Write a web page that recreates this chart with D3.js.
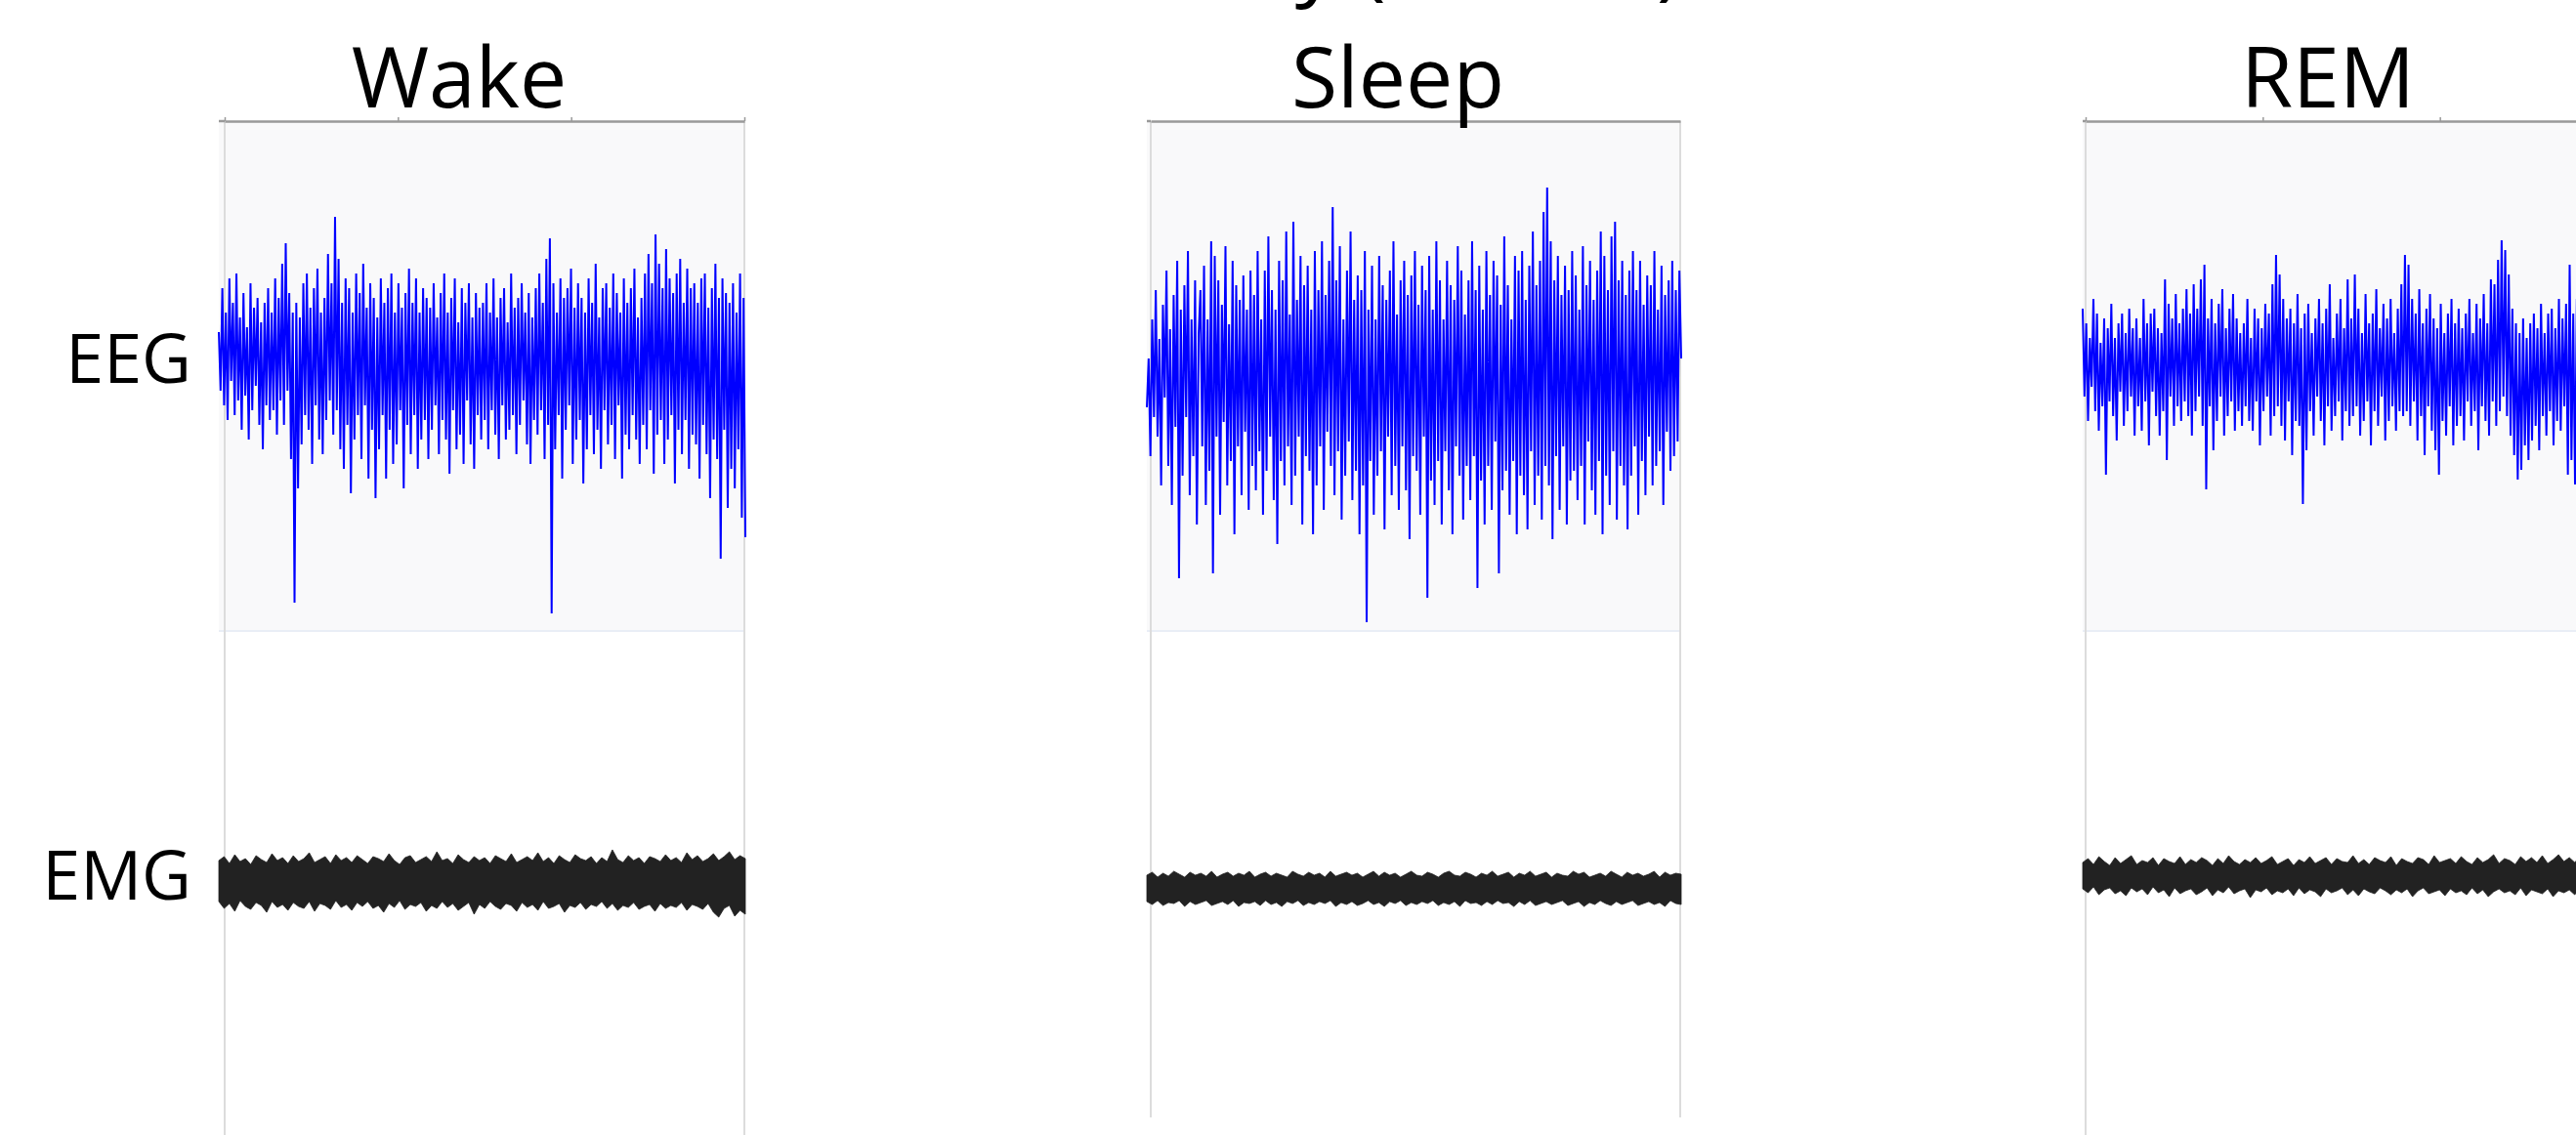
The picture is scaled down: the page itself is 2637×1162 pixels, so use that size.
<!DOCTYPE html>
<html>
<head>
<meta charset="utf-8">
<script src="https://cdn.jsdelivr.net/npm/d3@7"></script>
<style>
body { margin: 0; background: #fff; overflow: hidden; }
svg { display: block; }
text { font-family: "Open Sans", "Noto Sans", sans-serif; fill: #000; }
</style>
</head>
<body>
<svg id="viz"></svg>
<script>
var WIDTH = 2637;
var HEIGHT = 1162;

var titleText = "Activity (Mouse)";
var states = ["Wake", "Sleep", "REM"];
var channels = ["EEG", "EMG"];

// EEG traces (peak/trough pairs, µV-ish units)
var eegWake = [
    40,-20,85,-35,60,-50,95,-10,70,-45,100,-30,55,-60,80,-25,45,-70,90,-40,65,-15,75,-55,50,-80,70,-35,85,-50,
    60,-40,95,-65,75,-30,110,-55,131,-20,80,-90,60,-237,70,-120,55,-75,90,-45,100,-60,65,-95,85,-35,105,-70,60,-85,
    75,-50,120,-30,90,-65,158,-40,115,-80,70,-100,95,-55,85,-125,60,-70,100,-45,80,-90,110,-35,65,-110,90,-60,75,-130,
    55,-80,95,-45,70,-110,85,-60,100,-95,60,-75,90,-40,65,-120,80,-55,105,-85,70,-45,95,-100,60,-70,85,-50,75,-90,
    65,-60,90,-35,55,-85,80,-50,100,-70,60,-105,75,-40,95,-80,50,-65,85,-95,70,-30,90,-75,55,-100,80,-45,65,-70,
    70,-50,90,-80,60,-40,95,-65,55,-90,75,-35,85,-70,50,-60,100,-45,65,-85,75,-55,90,-30,60,-75,80,-95,55,-50,
    85,-65,100,-40,70,-90,115,-55,136,-248,90,-80,60,-45,95,-110,75,-60,85,-35,105,-95,65,-70,90,-50,75,-115,60,-80,
    95,-45,70,-85,110,-60,55,-100,85,-40,90,-75,65,-55,100,-90,80,-35,60,-110,95,-65,70,-80,85,-45,105,-70,55,-95,
    75,-55,100,-80,120,-40,90,-105,140,-65,110,-50,85,-95,125,-70,95,-45,80,-115,100,-60,115,-85,70,-50,105,-100,85,-65,
    90,-75,70,-110,95,-55,100,-85,65,-130,85,-70,110,-90,75,-192,95,-60,80,-140,70,-100,90,-120,60,-80,100,-150,75,-170
];
var eegSleep = [
    -30,20,-80,60,-40,90,-60,40,-110,75,-20,110,-90,50,-130,85,-50,120,-205,70,-100,95,-40,130,-120,60,-80,100,-150,45,
    90,-70,115,-130,60,-95,140,-200,125,-60,100,-140,75,-45,135,-110,55,-85,120,-160,95,-70,80,-120,105,-55,70,-135,110,-90,
    85,-115,130,-75,60,-140,110,-95,145,-60,90,-125,70,-170,120,-85,100,-110,150,-70,65,-130,160,-100,80,-60,125,-150,95,-80,
    115,-95,70,-160,130,-110,90,-70,140,-135,85,-55,120,-90,175,-120,100,-75,135,-145,60,-100,110,-65,150,-125,80,-95,105,-160,
    90,-110,130,-250,70,-85,115,-140,60,-100,125,-75,95,-155,80,-60,110,-120,140,-90,65,-135,100,-70,120,-115,85,-165,105,-80,
    130,-95,75,-140,115,-60,90,-225,125,-105,70,-130,140,-85,100,-150,60,-75,120,-115,95,-160,80,-70,135,-100,110,-145,65,-90,
    100,-125,140,-80,90,-215,115,-105,70,-150,130,-90,85,-135,120,-65,105,-200,75,-115,145,-95,95,-140,60,-85,125,-160,110,-100,
    130,-120,80,-155,115,-75,150,-130,95,-100,120,-145,170,-90,195,-110,140,-165,100,-80,125,-135,85,-70,115,-150,90,-105,130,-95,
    105,-125,70,-90,135,-150,95,-65,120,-115,80,-140,110,-85,150,-160,125,-100,90,-130,145,-75,160,-145,100,-90,120,-110,85,-155,
    110,-100,130,-70,90,-140,120,-85,75,-120,105,-60,95,-110,130,-90,70,-75,115,-130,85,-55,100,-95,120,-80,90,-65,110,20
];
var eegRem = [
    60,-30,45,-55,30,-20,70,-45,55,-65,25,-40,50,-110,40,-35,65,-50,30,-75,45,-25,55,-60,35,-45,60,-30,40,-70,
    50,-40,30,-65,70,-35,45,-80,55,-25,60,-50,40,-70,35,-45,90,-95,65,-30,50,-60,75,-40,45,-55,60,-35,80,-50,
    55,-70,85,-45,60,-30,90,-60,105,-125,50,-40,70,-85,45,-55,65,-30,80,-70,40,-50,60,-35,75,-65,50,-45,35,-60,
    45,-40,70,-55,30,-65,60,-35,50,-80,40,-45,65,-30,55,-70,85,-50,115,-40,95,-60,70,-75,50,-35,60,-90,45,-55,
    75,-60,40,-140,55,-85,65,-45,35,-70,50,-30,70,-55,45,-80,60,-40,85,-65,30,-50,55,-35,70,-75,40,-45,90,-60,
    50,-50,95,-40,60,-70,35,-55,75,-35,45,-80,55,-45,80,-60,40,-30,65,-75,50,-55,70,-40,35,-65,60,-45,85,-50,
    115,-45,105,-60,70,-35,55,-75,80,-50,45,-90,60,-40,75,-65,50,-85,40,-110,65,-55,35,-70,55,-40,70,-80,45,-60,
    60,-50,40,-75,55,-35,70,-60,35,-45,65,-85,50,-40,75,-55,45,-70,90,-35,85,-60,110,-45,130,-30,120,-50,95,-70,
    60,-90,45,-115,35,-105,50,-80,30,-95,45,-75,55,-60,40,-85,65,-50,35,-70,55,-45,60,-80,40,-55,70,-65,50,-40,
    65,-110,105,-95,55,-120,70,-60,45,-85,60,-50,75,-70,40,-60,55,-45,70,-80,50,-55,35,-65,60,-40,45,-75,55,-50
];

// EMG band edges (upper / lower envelope)
var emgWakeUpper = [22,26,19,28,21,24,18,27,23,20,29,22,25,19,27,21,24,30,20,23,26,19,28,22,25,20,27,23,19,26,24,21,29,22,18,25,27,20,23,26,21,31,22,24,19,28,23,20,26,22,25,19,27,24,21,29,20,23,26,22,30,21,25,19,27,23,20,28,24,22,26,19,25,21,33,23,20,27,22,25,19,26,24,21,28,22,25,20,30,23,27,21,24,29,22,26,31,23,27,24];
var emgWakeLower = [-20,-27,-22,-30,-19,-25,-28,-21,-24,-31,-20,-26,-23,-29,-21,-25,-27,-20,-30,-22,-24,-28,-19,-26,-23,-29,-21,-25,-20,-27,-24,-31,-22,-26,-19,-28,-23,-25,-21,-30,-24,-27,-20,-26,-22,-29,-25,-21,-33,-23,-27,-20,-25,-28,-22,-24,-30,-21,-26,-23,-29,-20,-27,-25,-22,-31,-24,-26,-21,-28,-23,-25,-20,-27,-22,-29,-24,-26,-21,-28,-25,-23,-30,-22,-27,-24,-26,-21,-29,-23,-25,-28,-22,-31,-36,-27,-24,-35,-29,-33];
var emgSleepUpper = [14,17,12,16,13,18,15,12,17,14,16,13,18,12,15,17,13,16,14,18,12,15,17,13,16,14,12,18,15,13,17,14,16,12,18,13,15,17,14,16,12,15,18,13,17,14,16,12,15,18,14,13,17,15,12,16,18,14,13,17,15,12,16,14,18,13,15,17,12,16,14,18,13,15,17,12,16,14,13,18,15,17,12,14,16,13,18,15,12,17,14,16,13,15,18,12,17,14,16,15];
var emgSleepLower = [-13,-16,-12,-17,-14,-15,-12,-18,-13,-16,-14,-12,-17,-15,-13,-16,-12,-18,-14,-15,-13,-17,-12,-16,-14,-18,-13,-15,-12,-17,-14,-16,-13,-15,-12,-18,-14,-16,-13,-17,-15,-12,-16,-14,-18,-13,-15,-12,-17,-14,-16,-13,-15,-12,-17,-14,-16,-13,-18,-12,-15,-14,-17,-13,-16,-12,-15,-14,-18,-13,-16,-12,-17,-15,-13,-16,-14,-12,-17,-15,-13,-18,-14,-16,-12,-15,-17,-13,-16,-14,-12,-17,-15,-13,-16,-14,-18,-12,-15,-16];
var emgRemUpper = [14,18,12,20,15,11,19,13,17,21,12,16,14,19,11,18,15,13,20,12,17,14,19,16,11,18,13,21,15,12,17,14,19,13,16,20,12,15,18,11,17,14,20,13,16,19,12,18,15,14,21,13,17,12,19,16,14,20,11,18,15,13,19,17,12,21,14,16,18,13,20,15,12,19,14,17,22,13,18,16,12,20,15,19,14,21,13,17,22,15,19,14,20,18,13,21,16,22,19,15];
var emgRemLower = [-13,-17,-11,-19,-14,-12,-18,-15,-20,-12,-16,-13,-19,-11,-17,-14,-21,-12,-18,-15,-13,-19,-16,-12,-20,-14,-17,-11,-18,-15,-13,-22,-14,-16,-12,-19,-15,-17,-13,-20,-12,-18,-14,-16,-21,-13,-17,-15,-12,-19,-14,-20,-13,-16,-18,-12,-15,-19,-14,-17,-13,-21,-15,-12,-18,-16,-14,-20,-13,-17,-15,-19,-12,-18,-14,-21,-16,-13,-17,-15,-19,-12,-20,-14,-16,-18,-13,-21,-15,-17,-14,-19,-12,-18,-16,-20,-14,-17,-15,-18];

// layout of each column (pixels)
var panels = [
    {state: states[0], eeg: eegWake, up: emgWakeUpper, lo: emgWakeLower,
     x0: 224, x1: 763, grid: 230, labelX: 470, eegMid: 380, emgMid: 903, gridBottom: 1162, ticks: true},
    {state: states[1], eeg: eegSleep, up: emgSleepUpper, lo: emgSleepLower,
     x0: 1174, x1: 1721, grid: 1178, labelX: 1431, eegMid: 387, emgMid: 910, gridBottom: 1144, ticks: false},
    {state: states[2], eeg: eegRem, up: emgRemUpper, lo: emgRemLower,
     x0: 2132, x1: 2680, grid: 2135, labelX: 2383, eegMid: 376, emgMid: 897, gridBottom: 1162, ticks: true}
];

var BOX_TOP = 124;
var BOX_BOTTOM = 646;

var svg = d3.select("#viz").attr("width", WIDTH).attr("height", HEIGHT);

// title, mostly cut off above the frame (as in the source picture)
svg.append("text")
    .attr("x", 1722)
    .attr("y", -11)
    .attr("text-anchor", "end")
    .attr("font-size", 88)
    .text(titleText);

// row labels
svg.append("text").attr("x", 196).attr("y", 392).attr("text-anchor", "end")
    .attr("font-size", 70).text(channels[0]);
svg.append("text").attr("x", 196).attr("y", 921).attr("text-anchor", "end")
    .attr("font-size", 70).text(channels[1]);

panels.forEach(function(p) {
    var g = svg.append("g");

    // light background behind the EEG
    g.append("rect")
        .attr("x", p.x0).attr("y", BOX_TOP)
        .attr("width", p.x1 - p.x0).attr("height", BOX_BOTTOM - BOX_TOP)
        .attr("fill", "#f9f9fa");
    g.append("line")
        .attr("x1", p.x0).attr("x2", p.x1)
        .attr("y1", BOX_BOTTOM).attr("y2", BOX_BOTTOM)
        .attr("stroke", "#e9eef6").attr("stroke-width", 2);

    // vertical grid lines
    [p.grid, p.x1 - 1].forEach(function(gx) {
        g.append("line")
            .attr("x1", gx).attr("x2", gx)
            .attr("y1", BOX_TOP).attr("y2", p.gridBottom)
            .attr("stroke", "#dcdcdc").attr("stroke-width", 2);
    });

    // top time axis
    var tScale = d3.scaleLinear().domain([0, 3]).range([p.grid, p.x1 - 1]);
    var axis = d3.axisTop(tScale)
        .tickValues(p.ticks ? [0, 1, 2, 3] : [])
        .tickFormat("")
        .tickSize(4)
        .tickSizeOuter(0);
    var ax = g.append("g").attr("transform", "translate(0," + BOX_TOP + ")").call(axis);
    ax.select(".domain").attr("stroke", "#999").attr("stroke-width", 2.5);
    ax.selectAll(".tick line").attr("stroke", "#999").attr("stroke-width", 1.5);
    g.append("line")
        .attr("x1", p.x0).attr("x2", p.grid)
        .attr("y1", BOX_TOP).attr("y2", BOX_TOP)
        .attr("stroke", "#999").attr("stroke-width", 2.5);

    // EEG trace
    var xE = d3.scaleLinear().domain([0, p.eeg.length - 1]).range([p.x0, p.x1]);
    var yE = d3.scaleLinear().domain([-260, 260]).range([p.eegMid + 260, p.eegMid - 260]);
    var eegLine = d3.line()
        .x(function(d, i) { return xE(i); })
        .y(function(d) { return yE(d); });
    g.append("path")
        .datum(p.eeg)
        .attr("d", eegLine)
        .attr("fill", "none")
        .attr("stroke", "#0000ff")
        .attr("stroke-width", 2)
        .attr("stroke-linejoin", "miter")
        .attr("stroke-miterlimit", 2);

    // EMG band
    var xM = d3.scaleLinear().domain([0, p.up.length - 1]).range([p.x0, p.x1]);
    var yM = d3.scaleLinear().domain([-40, 40]).range([p.emgMid + 40, p.emgMid - 40]);
    var emgArea = d3.area()
        .x(function(d, i) { return xM(i); })
        .y0(function(d, i) { return yM(p.lo[i]); })
        .y1(function(d) { return yM(d); });
    g.append("path")
        .datum(p.up)
        .attr("d", emgArea)
        .attr("fill", "#222")
        .attr("stroke", "#222")
        .attr("stroke-width", 0.8);

    // state label
    g.append("text")
        .attr("x", p.labelX)
        .attr("y", 110)
        .attr("text-anchor", "middle")
        .attr("font-size", 86)
        .text(p.state);
});
</script>
</body>
</html>
